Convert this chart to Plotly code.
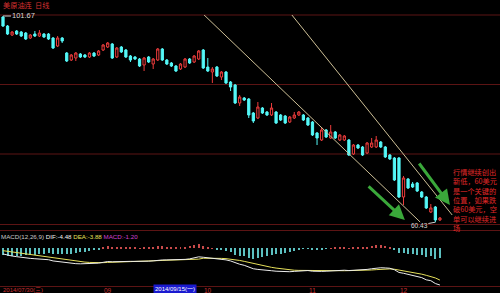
import plotly.graph_objects as go

# ---------------- data ----------------
opens = [101.47, 99.67, 97.87, 98.67, 98.47, 98.27, 97.27, 98.07, 97.67, 98.07,
         98.07, 97.27, 95.67, 97.27, 94.27, 92.87, 93.27, 94.07, 93.87, 93.47,
         94.27, 93.87, 94.87, 95.47, 96.07, 93.47, 95.47, 94.87, 93.67, 93.47,
         93.07, 91.87, 93.47, 92.07, 92.87, 95.07, 92.87, 92.27, 91.67, 91.07,
         91.47, 93.07, 92.47, 93.07, 94.87, 91.47, 90.47, 91.47, 89.47, 90.47,
         88.47, 87.87, 84.27, 85.27, 85.07, 82.27, 81.27, 83.27, 82.47, 81.87,
         82.47, 81.87, 81.67, 80.47, 81.27, 81.87, 81.87, 81.27, 80.47, 78.27,
         76.87, 78.87, 77.27, 78.47, 76.87, 76.87, 76.87, 74.07, 75.87, 75.47,
         74.27, 75.47, 75.47, 76.47, 75.47, 73.87, 73.27, 73.27, 65.47, 69.07,
         68.07, 68.27, 66.47, 65.47, 62.47, 63.47, 60.87]
highs = [101.67, 99.87, 98.67, 98.87, 98.67, 98.47, 98.07, 98.67, 98.87, 98.27,
         98.27, 97.47, 97.67, 97.47, 94.47, 94.07, 94.47, 94.27, 94.07, 94.47,
         94.47, 94.87, 96.07, 96.47, 96.27, 95.47, 95.67, 95.07, 93.87, 93.67,
         93.27, 93.47, 93.67, 93.27, 95.27, 95.27, 93.07, 92.47, 91.87, 92.27,
         93.27, 93.27, 93.87, 94.87, 95.07, 93.27, 91.47, 91.67, 90.67, 90.67,
         88.67, 88.07, 85.87, 85.47, 85.27, 82.47, 84.47, 83.47, 82.67, 84.27,
         82.67, 82.07, 81.87, 81.67, 82.47, 82.67, 82.07, 81.47, 80.67, 78.47,
         79.47, 79.07, 79.87, 78.67, 78.07, 77.87, 77.07, 76.07, 76.07, 75.67,
         76.47, 77.27, 77.67, 76.67, 75.67, 74.07, 73.47, 73.47, 69.67, 69.27,
         68.47, 68.47, 66.67, 65.67, 64.07, 63.67, 61.47]
lows = [99.47, 97.87, 97.67, 97.87, 97.47, 96.87, 97.07, 97.47, 97.47, 97.27,
        96.87, 95.07, 95.47, 96.27, 92.47, 92.67, 92.67, 93.27, 93.27, 93.27,
        93.47, 93.67, 94.67, 95.27, 93.07, 93.27, 94.27, 93.27, 92.47, 92.87,
        91.47, 90.67, 92.27, 91.07, 92.67, 92.67, 91.87, 91.47, 90.47, 90.87,
        91.27, 92.07, 92.27, 92.87, 91.07, 90.47, 88.27, 89.47, 88.87, 88.07,
        86.67, 84.07, 83.67, 84.67, 81.27, 80.27, 81.07, 82.07, 81.67, 81.67,
        80.07, 80.67, 80.07, 80.27, 81.07, 81.67, 80.67, 79.67, 77.67, 75.87,
        76.67, 77.27, 77.07, 77.07, 76.67, 76.67, 73.67, 73.87, 75.07, 73.67,
        74.07, 75.27, 75.27, 75.27, 73.27, 72.87, 68.67, 65.27, 63.87, 67.07,
        67.27, 66.47, 65.27, 63.07, 62.27, 60.43, 60.67]
closes = [99.67, 98.07, 98.47, 98.07, 97.67, 97.07, 97.87, 97.67, 98.27, 97.47,
          97.07, 95.27, 97.27, 96.67, 92.67, 93.87, 94.27, 93.47, 93.47, 94.27,
          93.67, 94.67, 95.87, 96.27, 93.27, 95.27, 94.47, 93.47, 92.87, 93.07,
          91.67, 93.27, 92.47, 93.07, 95.07, 92.87, 92.07, 91.67, 90.67, 92.07,
          93.07, 92.27, 93.67, 94.67, 91.27, 90.67, 91.07, 89.67, 90.47, 88.27,
          87.47, 84.27, 85.47, 84.87, 81.87, 80.67, 83.47, 82.27, 81.87, 83.27,
          80.27, 80.87, 80.27, 81.47, 81.87, 82.47, 80.87, 79.87, 77.87, 77.27,
          78.87, 77.47, 78.47, 77.27, 77.87, 77.67, 73.87, 75.87, 75.27, 73.87,
          76.27, 76.27, 76.87, 75.47, 73.47, 73.07, 68.87, 65.47, 69.27, 67.27,
          67.47, 66.67, 65.47, 63.27, 63.27, 60.87, 61.27]

dif = [-0.70, -0.85, -0.95, -1.03, -1.12, -1.18, -1.24, -1.28, -1.32, -1.36,
       -1.40, -1.55, -1.62, -1.68, -1.80, -1.86, -1.88, -1.90, -1.90, -1.89,
       -1.87, -1.82, -1.72, -1.62, -1.65, -1.62, -1.58, -1.58, -1.60, -1.60,
       -1.62, -1.60, -1.58, -1.54, -1.45, -1.43, -1.42, -1.42, -1.45, -1.43,
       -1.36, -1.30, -1.20, -1.05, -1.10, -1.15, -1.20, -1.28, -1.33, -1.42,
       -1.55, -1.80, -1.95, -2.08, -2.30, -2.50, -2.58, -2.66, -2.72, -2.74,
       -2.80, -2.84, -2.86, -2.86, -2.82, -2.76, -2.72, -2.72, -2.80, -2.85,
       -2.82, -2.80, -2.76, -2.73, -2.70, -2.68, -2.72, -2.70, -2.66, -2.64,
       -2.58, -2.50, -2.42, -2.38, -2.40, -2.44, -2.62, -2.95, -3.05, -3.20,
       -3.32, -3.45, -3.58, -3.85, -3.95, -4.30, -4.48]
dea = [-0.30, -0.38, -0.47, -0.56, -0.65, -0.74, -0.82, -0.89, -0.96, -1.02,
       -1.09, -1.17, -1.25, -1.33, -1.42, -1.50, -1.57, -1.64, -1.69, -1.73,
       -1.76, -1.77, -1.76, -1.73, -1.71, -1.69, -1.67, -1.65, -1.64, -1.63,
       -1.63, -1.62, -1.61, -1.60, -1.57, -1.54, -1.52, -1.50, -1.49, -1.48,
       -1.46, -1.44, -1.40, -1.33, -1.22, -1.21, -1.21, -1.22, -1.24, -1.27,
       -1.32, -1.40, -1.49, -1.60, -1.73, -1.87, -2.00, -2.12, -2.23, -2.33,
       -2.42, -2.50, -2.58, -2.64, -2.68, -2.70, -2.71, -2.71, -2.73, -2.75,
       -2.76, -2.77, -2.77, -2.76, -2.75, -2.74, -2.73, -2.73, -2.72, -2.70,
       -2.68, -2.65, -2.61, -2.57, -2.54, -2.52, -2.56, -2.65, -2.75, -2.85,
       -2.95, -3.05, -3.16, -3.30, -3.45, -3.62, -3.88]
macd_hist = [-0.80, -0.94, -0.96, -0.94, -0.94, -0.88, -0.84, -0.78, -0.72, -0.68,
             -0.62, -0.76, -0.74, -0.70, -0.76, -0.72, -0.62, -0.52, -0.42, -0.32,
             -0.22, -0.10, 0.08, 0.22, 0.12, 0.14, 0.18, 0.14, 0.08, 0.06,
             0.02, 0.04, 0.06, 0.12, 0.24, 0.22, 0.20, 0.16, 0.08, 0.10,
             0.20, 0.28, 0.40, 0.56, 0.24, 0.12, 0.02, -0.12, -0.18, -0.30,
             -0.46, -0.80, -0.92, -0.96, -1.14, -1.26, -1.16, -1.08, -0.98, -0.82,
             -0.76, -0.68, -0.56, -0.44, -0.28, -0.12, -0.02, -0.02, -0.14, -0.20,
             -0.12, -0.06, 0.02, 0.06, 0.10, 0.12, 0.02, 0.06, 0.12, 0.12,
             0.20, 0.30, 0.38, 0.38, 0.28, 0.16, -0.12, -0.60, -0.60, -0.70,
             -0.74, -0.80, -0.84, -1.10, -1.00, -1.36, -1.20]

title_text = "美原油连  日线"
start_label = "2014/07/30(三)"
cursor_idx = 33
cursor_label = "2014/09/15(一)"
month_tick_idx = [23, 45, 68, 88]
month_tick_text = ["09", "10", "11", "12"]
macd_params = "MACD(12,26,9)"
note_lines = ["行情继续创出", "新低，60美元", "是一个关键的", "位置，如果跌",
              "破60美元，空", "单可以继续进", "场"]

# hand-drawn trend lines and arrows: (start index, start price, end index, end price)
trend_lines = [(43.96, 102.07, 91.65, 60.47), (63.3, 102.07, 98.7, 61.87)]
green_arrows = [(80.0, 67.87, 88.3, 60.87), (91.2, 72.47, 98.2, 63.87)]

# ---------------- figure ----------------
idx = list(range(len(opens)))
H = 293.0


def py(px):
    return 1 - px / H


fig = go.Figure()
fig.add_trace(go.Candlestick(
    x=idx, open=opens, high=highs, low=lows, close=closes,
    increasing=dict(line=dict(color="#ec3c3c", width=1), fillcolor="#000000"),
    decreasing=dict(line=dict(color="#54f8f8", width=1), fillcolor="#54f8f8"),
    whiskerwidth=0, xaxis="x", yaxis="y", showlegend=False, hoverinfo="skip"))

fig.add_trace(go.Bar(
    x=idx, y=macd_hist, width=0.22,
    marker=dict(color=["#c84a4a" if v > 0 else "#5cc0c0" for v in macd_hist], line=dict(width=0)),
    xaxis="x2", yaxis="y2", showlegend=False, hoverinfo="skip"))
fig.add_trace(go.Scatter(x=idx, y=dea, mode="lines", line=dict(color="#e6e05a", width=1),
                         xaxis="x2", yaxis="y2", showlegend=False, hoverinfo="skip"))
fig.add_trace(go.Scatter(x=idx, y=dif, mode="lines", line=dict(color="#ececec", width=1),
                         xaxis="x2", yaxis="y2", showlegend=False, hoverinfo="skip"))

xr = [-0.66, 109.2]
fig.update_layout(
    width=500, height=293, margin=dict(l=0, r=0, t=0, b=0),
    paper_bgcolor="#000000", plot_bgcolor="#000000",
    xaxis=dict(domain=[0, 1], range=xr, visible=False, rangeslider=dict(visible=False), anchor="y"),
    yaxis=dict(domain=[py(225), py(15)], range=[59.87, 101.87], visible=False),
    xaxis2=dict(domain=[0, 1], range=xr, visible=False, anchor="y2"),
    yaxis2=dict(domain=[py(286), py(240)], range=[-4.6, 1.0], visible=False),
    bargap=0, font=dict(family="Liberation Sans, Noto Sans CJK SC", color="#d0d0d0"),
)

shapes = []
grid_col = "#5c1414"
for px in [15, 84.5, 154, 224.5, 230.5, 286.5]:
    shapes.append(dict(type="line", xref="paper", yref="paper", x0=0, x1=1, y0=py(px), y1=py(px),
                       line=dict(color=grid_col, width=1), layer="below"))
for (a, b, c, d) in trend_lines:
    shapes.append(dict(type="line", xref="x", yref="y", x0=a, y0=b, x1=c, y1=d,
                       line=dict(color="#cdbf96", width=1)))
fig.update_layout(shapes=shapes)

ann = []
cjk = "Noto Sans CJK SC"
ann.append(dict(xref="paper", yref="paper", x=0.004, y=py(-1), xanchor="left", yanchor="top",
                text=title_text, showarrow=False, borderpad=0,
                font=dict(family=cjk, size=7.2, color="#d83030")))
# max / min markers
imax = highs.index(max(highs))
imin = lows.index(min(lows))
ann.append(dict(xref="x", yref="y", x=imax, y=highs[imax], text=f"{max(highs):.2f}", showarrow=True,
                ax=20, ay=0, arrowhead=0, arrowwidth=1, arrowcolor="#d0d0d0", borderpad=0,
                font=dict(size=7.5, color="#d8d8d8")))
ann.append(dict(xref="x", yref="y", x=imin, y=min(lows), text=f"{min(lows):.2f}", showarrow=True,
                ax=-16, ay=3, arrowhead=0, arrowwidth=1, arrowcolor="#d0d0d0", borderpad=0,
                font=dict(size=6.5, color="#d8d8d8")))
# green arrows
for (a, b, c, d) in green_arrows:
    ann.append(dict(xref="x", yref="y", axref="x", ayref="y", x=c, y=d, ax=a, ay=b, text="",
                    showarrow=True, arrowhead=2, arrowsize=1, arrowwidth=3, arrowcolor="#3aa83a"))
# note text
ann.append(dict(xref="paper", yref="paper", x=452 / 500, y=py(166), xanchor="left", yanchor="top",
                text="<br>".join(note_lines), showarrow=False, align="left", borderpad=0,
                font=dict(family=cjk, size=7.2, color="#e02828")))
# MACD legend
ann.append(dict(xref="paper", yref="paper", x=0.0, y=py(236), xanchor="left", yanchor="middle",
                showarrow=False, borderpad=0,
                text=(f"<span style='color:#c8c8c8'>{macd_params}</span> "
                      f"<span style='color:#f0f0f0'>DIF:{dif[-1]:.2f}</span> "
                      f"<span style='color:#e6e05a'>DEA:{dea[-1]:.2f}</span> "
                      f"<span style='color:#d040d0'>MACD:{macd_hist[-1]:.2f}</span>"),
                font=dict(size=6.2)))
# x labels
ann.append(dict(xref="paper", yref="paper", x=0.004, y=py(290), xanchor="left", yanchor="middle",
                text=start_label, showarrow=False, borderpad=0,
                font=dict(family="Liberation Sans, Noto Sans CJK SC", size=6, color="#c83030")))
for i, t in zip(month_tick_idx, month_tick_text):
    ann.append(dict(xref="x2", yref="paper", x=i, y=py(290), xanchor="center", yanchor="middle",
                    text=t, showarrow=False, borderpad=0, font=dict(size=6.5, color="#c83030")))
ann.append(dict(xref="x2", yref="paper", x=cursor_idx, y=py(289), xanchor="left", yanchor="middle",
                text=cursor_label, showarrow=False, bgcolor="#1a1ad0", borderpad=1,
                font=dict(family="Liberation Sans, Noto Sans CJK SC", size=6, color="#ffffff")))
fig.update_layout(annotations=ann)

fig.write_html("out.html")
